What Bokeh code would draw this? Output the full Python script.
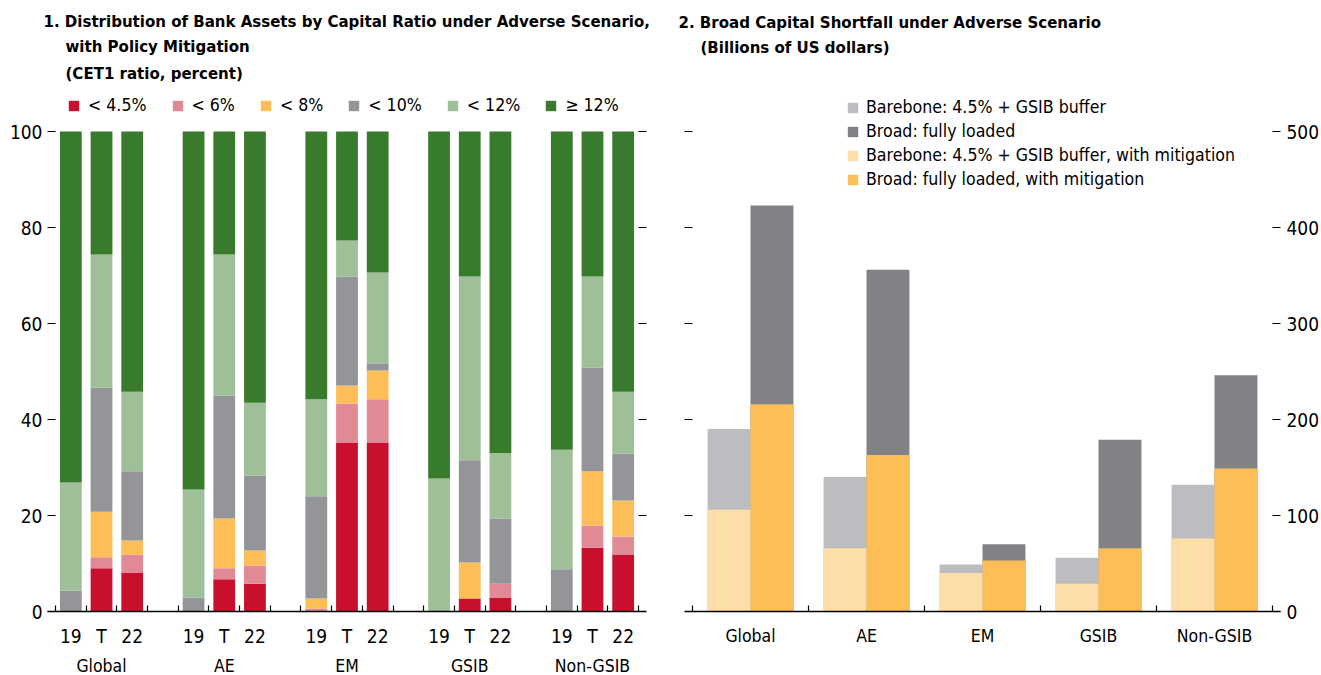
from bokeh.plotting import figure
from bokeh.models import (ColumnDataSource, FixedTicker, LinearAxis, Range1d,
                          Legend, LegendItem, Title)
from bokeh.layouts import row
from bokeh.transform import dodge
from bokeh.embed import file_html
from bokeh.resources import INLINE

FONT = "'Liberation Sans Narrow', 'Arial Narrow', 'DejaVu Sans Condensed', sans-serif"

# ---------------- data: panel 1 ----------------
groups = ["Global", "AE", "EM", "GSIB", "Non-GSIB"]
periods = ["19", "T", "22"]
bands = ["< 4.5%", "< 6%", "< 8%", "< 10%", "< 12%", "\u2265 12%"]
band_keys = ["b1", "b2", "b3", "b4", "b5", "b6"]
band_colors = ["#C8102E", "#E18A96", "#FDBD57", "#939598", "#9EBF97", "#387B2C"]

# shares of bank assets (percent), bars in order Global 19/T/22, AE 19/T/22, ...
share_lt45 = [0.0, 9.0, 8.1, 0.0, 6.7, 5.8, 0.0, 35.2, 35.2, 0.0, 2.7, 2.9, 0.0, 13.3, 11.9]
share_lt6 = [0.0, 2.3, 3.8, 0.0, 2.3, 3.8, 0.6, 8.1, 9.0, 0.0, 0.0, 2.9, 0.0, 4.6, 3.7]
share_lt8 = [0.0, 9.5, 2.9, 0.0, 10.4, 3.1, 2.1, 3.8, 6.0, 0.0, 7.5, 0.0, 0.0, 11.3, 7.5]
share_lt10 = [4.4, 25.8, 14.4, 2.9, 25.6, 15.6, 21.3, 22.7, 1.5, 0.0, 21.3, 13.6, 8.8, 21.6, 9.8]
share_lt12 = [22.5, 27.8, 16.6, 22.5, 29.4, 15.2, 20.2, 7.5, 18.9, 27.7, 38.3, 13.6, 24.9, 19.0, 12.9]
share_ge12 = [73.1, 25.6, 54.2, 74.6, 25.6, 56.5, 55.8, 22.7, 29.4, 72.3, 30.2, 67.0, 66.3, 30.2, 54.2]
y1_ticks = [0, 20, 40, 60, 80, 100]

# ---------------- data: panel 2 ----------------
barebone = [190, 140, 49, 56, 132]
broad = [423, 356, 70, 179, 246]
barebone_mit = [106, 66, 40, 29, 76]
broad_mit = [216, 163, 53, 66, 149]
y2_ticks = [0, 100, 200, 300, 400, 500]
series2 = ["Barebone: 4.5% + GSIB buffer", "Broad: fully loaded",
           "Barebone: 4.5% + GSIB buffer, with mitigation",
           "Broad: fully loaded, with mitigation"]
colors2 = ["#BCBDC0", "#808285", "#FDDEA9", "#FDBD57"]

TICK_FS = "19px"
CAT_FS = "17.5px"
LEG_FS = "17.6px"
TITLE_FS = "16.7px"


def style_inner_y(ax, labels=True):
    ax.axis_line_color = None
    ax.major_tick_in = 8
    ax.major_tick_out = 0
    ax.major_tick_line_color = "black"
    ax.major_tick_line_width = 1.2
    ax.minor_tick_line_color = None
    ax.major_label_text_font = FONT
    ax.major_label_text_font_size = TICK_FS
    ax.major_label_text_color = "black"
    if not labels:
        ax.major_label_overrides = {t: "" for t in ax.ticker.ticks}
        ax.major_label_standoff = 0


def add_title(p, text, offset, standoff, size=TITLE_FS, bold=True):
    p.add_layout(Title(text=text, align="left", offset=offset, standoff=standoff,
                       text_font=FONT, text_font_size=size,
                       text_font_style="bold" if bold else "normal",
                       text_color="black"), "above")


# ---------------- panel 1 ----------------
slot = 4  # 3 bars + 1 gap per group
xs1 = [g * slot + i + 0.5 for g in range(len(groups)) for i in range(len(periods))]
src1 = ColumnDataSource(dict(x=xs1, b1=share_lt45, b2=share_lt6, b3=share_lt8,
                             b4=share_lt10, b5=share_lt12, b6=share_ge12))
n_slots = len(groups) * slot - 1

p1 = figure(frame_width=599, frame_height=521, min_border_left=47, min_border_right=19,
            min_border_top=90, min_border_bottom=0,
            x_range=Range1d(-8 / 30.72, n_slots + 8 / 30.72),
            y_range=Range1d(0, 100 + 41 / 4.8),
            output_backend="svg", toolbar_location=None)
p1.outline_line_color = None
p1.grid.visible = False

rs = p1.vbar_stack(band_keys, x="x", width=0.71, source=src1, color=band_colors,
                   line_color=None)

xa = p1.xaxis[0]
xa.ticker = FixedTicker(ticks=xs1, minor_ticks=list(range(0, n_slots + 1)))
xa.major_label_overrides = {x: periods[i % 3] for i, x in enumerate(xs1)}
xa.major_tick_line_color = None
xa.major_tick_in = 0
xa.major_tick_out = 0
xa.minor_tick_in = 6
xa.minor_tick_out = 0
xa.minor_tick_line_color = "black"
xa.minor_tick_line_width = 1.2
xa.axis_line_color = "black"
xa.axis_line_width = 1.5
xa.major_label_standoff = 13
xa.major_label_text_font = FONT
xa.major_label_text_font_size = TICK_FS
xa.major_label_text_color = "black"

centers1 = [g * slot + 1.5 for g in range(len(groups))]
ga = LinearAxis(ticker=FixedTicker(ticks=centers1),
                major_label_overrides={c: groups[i] for i, c in enumerate(centers1)})
ga.major_tick_line_color = None
ga.major_tick_in = 0
ga.major_tick_out = 0
ga.minor_tick_line_color = None
ga.axis_line_color = None
ga.major_label_standoff = 6
ga.major_label_text_font = FONT
ga.major_label_text_font_size = CAT_FS
ga.major_label_text_color = "black"
p1.add_layout(ga, "below")

ya = p1.yaxis[0]
ya.ticker = FixedTicker(ticks=y1_ticks)
style_inner_y(ya)
ya.major_label_standoff = 5

yr = LinearAxis(ticker=FixedTicker(ticks=y1_ticks[1:]))
style_inner_y(yr, labels=False)
p1.add_layout(yr, "right")

leg1 = Legend(items=[LegendItem(label=b, renderers=[r]) for b, r in zip(bands, rs)],
              location=(20, 496), orientation="horizontal", padding=0, margin=0,
              spacing=24, glyph_width=13, glyph_height=13, label_standoff=8,
              label_text_font=FONT, label_text_font_size=LEG_FS,
              label_text_color="black",
              border_line_color=None, background_fill_alpha=0)
p1.add_layout(leg1)

t1 = ["1. Distribution of Bank Assets by Capital Ratio under Adverse Scenario,",
      "with Policy Mitigation", "(CET1 ratio, percent)"]
add_title(p1, " ", 0, 2, size="1px")
add_title(p1, t1[2], 18, 5)
add_title(p1, t1[1], 18, 6)
add_title(p1, t1[0], -4, 0)

# ---------------- panel 2 ----------------
xs2 = [g + 0.5 for g in range(len(groups))]
bw = 0.37
src2 = ColumnDataSource(dict(x=xs2, barebone=barebone, broad=broad,
                             barebone_mit=barebone_mit, broad_mit=broad_mit))

p2 = figure(frame_width=596, frame_height=521, min_border_left=19, min_border_right=36,
            min_border_top=90, min_border_bottom=0,
            x_range=Range1d(-8 / 116.2, len(groups) + 8 / 116.2),
            y_range=Range1d(0, 500 + 41 / 0.96),
            output_backend="svg", toolbar_location=None)
p2.outline_line_color = None
p2.grid.visible = False

r_bb = p2.vbar(x=dodge("x", -bw / 2, range=p2.x_range), top="barebone", width=bw,
               source=src2, color=colors2[0], line_color=None)
r_br = p2.vbar(x=dodge("x", bw / 2, range=p2.x_range), top="broad", width=bw,
               source=src2, color=colors2[1], line_color=None)
r_bbm = p2.vbar(x=dodge("x", -bw / 2, range=p2.x_range), top="barebone_mit", width=bw,
                source=src2, color=colors2[2], line_color=None)
r_brm = p2.vbar(x=dodge("x", bw / 2, range=p2.x_range), top="broad_mit", width=bw,
                source=src2, color=colors2[3], line_color=None)

xb = p2.xaxis[0]
xb.ticker = FixedTicker(ticks=xs2, minor_ticks=list(range(0, len(groups) + 1)))
xb.major_label_overrides = {x: groups[i] for i, x in enumerate(xs2)}
xb.major_tick_line_color = None
xb.major_tick_in = 0
xb.major_tick_out = 0
xb.minor_tick_in = 6
xb.minor_tick_out = 0
xb.minor_tick_line_color = "black"
xb.minor_tick_line_width = 1.2
xb.axis_line_color = "black"
xb.axis_line_width = 1.5
xb.major_label_standoff = 14
xb.major_label_text_font = FONT
xb.major_label_text_font_size = CAT_FS
xb.major_label_text_color = "black"

yl2 = p2.yaxis[0]
yl2.ticker = FixedTicker(ticks=y2_ticks[1:])
style_inner_y(yl2, labels=False)

yr2 = LinearAxis(ticker=FixedTicker(ticks=y2_ticks))
style_inner_y(yr2)
yr2.major_label_standoff = 6
p2.add_layout(yr2, "right")

leg2 = Legend(items=[LegendItem(label=s, renderers=[r]) for s, r in
                     zip(series2, [r_bb, r_br, r_bbm, r_brm])],
              location=(162, 422), orientation="vertical", padding=0, margin=0,
              spacing=4, glyph_width=13, glyph_height=13, label_standoff=7,
              label_text_font=FONT, label_text_font_size=LEG_FS,
              label_text_color="black",
              border_line_color=None, background_fill_alpha=0)
p2.add_layout(leg2)

t2 = ["2. Broad Capital Shortfall under Adverse Scenario", "(Billions of US dollars)"]
add_title(p2, " ", 0, 28, size="1px")
add_title(p2, t2[1], 16, 6)
add_title(p2, t2[0], -6, 0)

layout = row(p1, p2, spacing=0)
open("out.html", "w").write(file_html(layout, INLINE))
